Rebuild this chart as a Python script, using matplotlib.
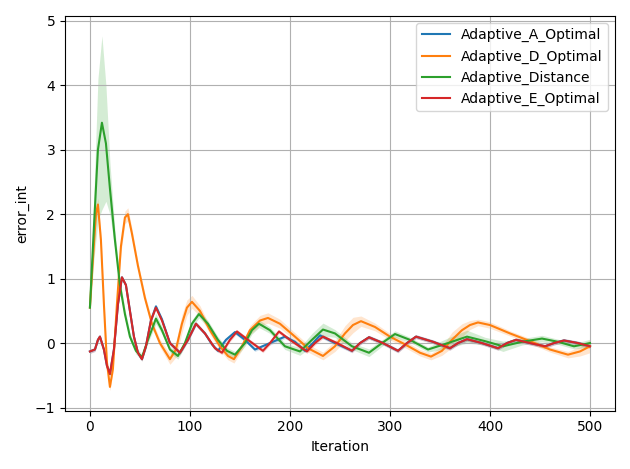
import numpy as np
from matplotlib import pyplot as plt

# keypoints (iteration, mean, spread)
x_a = [0, 5, 8, 10, 12, 14, 17, 20, 24, 28, 32, 36, 40, 44, 48, 52, 56, 61, 66, 72, 80, 90, 98, 106, 115, 122, 128, 136, 145, 155, 165, 180, 195, 205, 215, 223, 230, 245, 262, 270, 279, 293, 308, 317, 326, 343, 360, 368, 377, 392, 408, 417, 426, 440, 455, 464, 474, 488, 500]
y_a = [-0.13, -0.1, 0.05, 0.1, 0.0, -0.1, -0.35, -0.48, -0.1, 0.6, 1.02, 0.9, 0.5, 0.1, -0.15, -0.25, -0.05, 0.35, 0.57, 0.37, 0.0, -0.15, 0.05, 0.3, 0.15, -0.02, -0.12, 0.05, 0.17, 0.05, -0.1, 0.0, 0.1, 0.02, -0.12, 0.0, 0.12, 0.0, -0.12, 0.0, 0.09, 0.0, -0.12, 0.0, 0.1, 0.02, -0.08, 0.0, 0.06, 0.0, -0.08, 0.0, 0.05, 0.0, -0.05, 0.0, 0.04, 0.0, -0.05]
s_a = [0.03] * len(x_a)

x_d = [0, 3, 6, 8, 11, 14, 17, 20, 23, 27, 31, 35, 38, 42, 48, 55, 62, 70, 80, 86, 92, 97, 102, 110, 120, 130, 138, 144, 152, 160, 170, 178, 190, 205, 218, 233, 245, 255, 263, 271, 285, 300, 315, 330, 341, 352, 362, 372, 380, 388, 400, 420, 440, 460, 478, 490, 500]
y_d = [0.55, 1.3, 2.0, 2.15, 1.6, 0.6, -0.3, -0.68, -0.4, 0.6, 1.5, 1.95, 2.0, 1.7, 1.2, 0.7, 0.3, 0.0, -0.25, -0.1, 0.3, 0.55, 0.64, 0.5, 0.2, -0.05, -0.2, -0.25, -0.05, 0.2, 0.35, 0.39, 0.3, 0.1, -0.08, -0.2, -0.05, 0.15, 0.28, 0.34, 0.25, 0.1, -0.02, -0.15, -0.21, -0.12, 0.05, 0.2, 0.28, 0.32, 0.28, 0.15, 0.03, -0.1, -0.18, -0.13, -0.05]
s_d = [0.05, 0.08, 0.1, 0.1, 0.1, 0.1, 0.08, 0.06, 0.06, 0.08, 0.1, 0.1, 0.1, 0.08, 0.06, 0.06, 0.06, 0.06, 0.08, 0.12, 0.14, 0.12, 0.1, 0.08, 0.06, 0.06, 0.06, 0.06, 0.06, 0.07, 0.08, 0.08, 0.07, 0.06, 0.06, 0.06, 0.08, 0.12, 0.12, 0.08, 0.06, 0.05, 0.05, 0.05, 0.05, 0.07, 0.12, 0.1, 0.07, 0.05, 0.05, 0.04, 0.04, 0.04, 0.05, 0.07, 0.1]

x_dist = [0, 4, 8, 12, 16, 20, 25, 30, 35, 40, 46, 52, 58, 66, 72, 80, 88, 95, 102, 109, 118, 128, 137, 145, 155, 162, 169, 180, 195, 210, 222, 233, 245, 262, 279, 292, 305, 320, 338, 358, 377, 395, 413, 432, 452, 468, 484, 500]
y_dist = [0.55, 1.8, 3.0, 3.42, 3.1, 2.4, 1.6, 0.9, 0.45, 0.1, -0.12, -0.22, 0.05, 0.38, 0.2, -0.1, -0.2, 0.0, 0.3, 0.45, 0.3, 0.05, -0.12, -0.18, 0.0, 0.2, 0.3, 0.2, -0.05, -0.13, 0.05, 0.21, 0.15, -0.05, -0.15, 0.0, 0.14, 0.05, -0.1, 0.0, 0.1, 0.03, -0.05, 0.02, 0.07, 0.02, -0.05, 0.0]
s_dist = [0.1, 0.5, 1.1, 1.35, 0.9, 0.4, 0.15, 0.1, 0.08, 0.06, 0.05, 0.05, 0.05, 0.08, 0.06, 0.05, 0.05, 0.05, 0.06, 0.06, 0.05, 0.05, 0.05, 0.05, 0.05, 0.06, 0.06, 0.05, 0.05, 0.06, 0.1, 0.1, 0.06, 0.05, 0.06, 0.05, 0.05, 0.04, 0.04, 0.08, 0.1, 0.06, 0.08, 0.05, 0.05, 0.04, 0.04, 0.06]

x_e = [0, 5, 8, 10, 12, 14, 17, 20, 24, 28, 32, 36, 40, 44, 48, 52, 56, 61, 66, 72, 80, 90, 98, 106, 115, 125, 132, 140, 147, 158, 173, 180, 189, 200, 217, 225, 233, 247, 262, 270, 279, 293, 308, 317, 326, 343, 360, 368, 377, 392, 408, 417, 426, 440, 455, 464, 474, 488, 500]
y_e = [-0.13, -0.1, 0.05, 0.1, 0.0, -0.1, -0.35, -0.48, -0.1, 0.6, 1.02, 0.9, 0.5, 0.1, -0.15, -0.25, -0.05, 0.35, 0.55, 0.35, 0.0, -0.15, 0.05, 0.3, 0.15, -0.08, -0.15, 0.05, 0.18, 0.05, -0.12, 0.0, 0.18, 0.05, -0.13, 0.0, 0.1, 0.0, -0.12, 0.0, 0.09, 0.0, -0.12, 0.0, 0.1, 0.02, -0.08, 0.0, 0.06, 0.0, -0.08, 0.0, 0.05, 0.0, -0.05, 0.0, 0.04, 0.0, -0.05]
s_e = [0.03] * len(x_e)

series = [("Adaptive_A_Optimal", x_a, y_a, s_a),
          ("Adaptive_D_Optimal", x_d, y_d, s_d),
          ("Adaptive_Distance", x_dist, y_dist, s_dist),
          ("Adaptive_E_Optimal", x_e, y_e, s_e)]
colors = ["#1f77b4", "#ff7f0e", "#2ca02c", "#d62728"]

fig, ax = plt.subplots(figsize=(6.3, 4.69), dpi=100)
for (name, x, y, s), c in zip(series, colors):
    x = np.array(x); y = np.array(y); s = np.array(s)
    ax.plot(x, y, color=c, label=name, linewidth=1.5)
    ax.fill_between(x, y - s, y + s, color=c, alpha=0.2, linewidth=0)

ax.set_xlabel("Iteration")
ax.set_ylabel("error_int")
ax.set_yticks([-1, 0, 1, 2, 3, 4, 5])
ax.set_ylim(-1.05, 5.08)
ax.grid(True)
ax.legend(loc="upper right")
plt.tight_layout()
plt.savefig("out.png")
